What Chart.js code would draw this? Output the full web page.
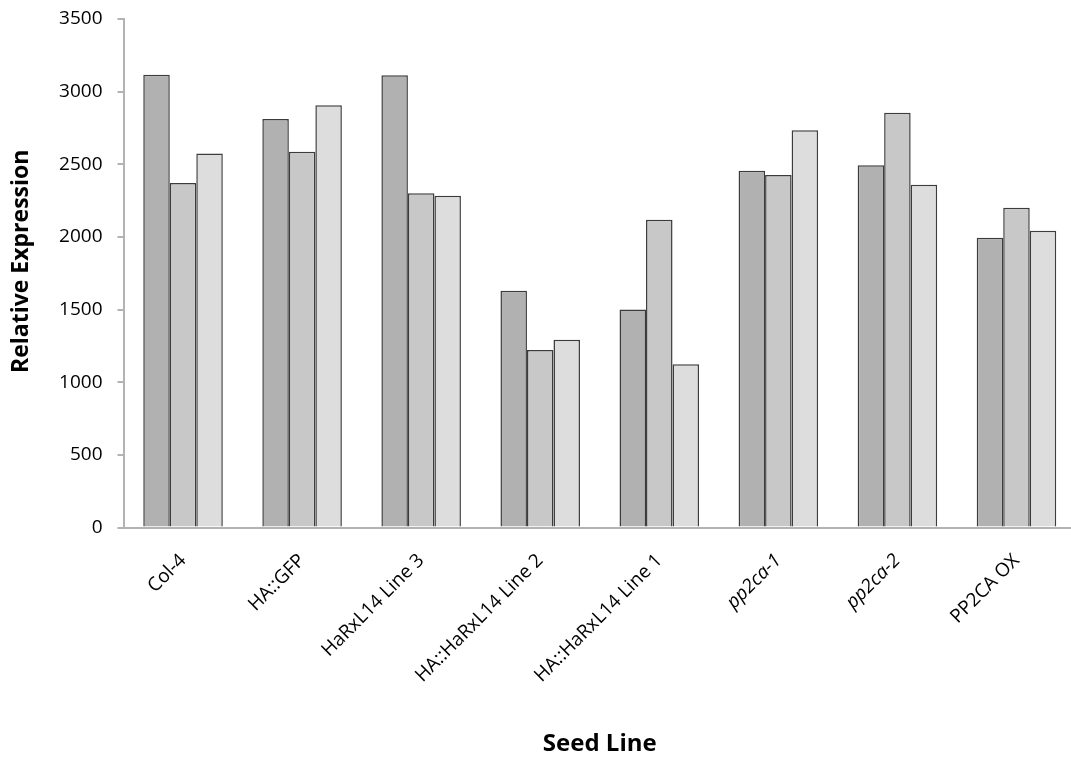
<!DOCTYPE html>
<html>
<head>
<meta charset="utf-8">
<script src="https://cdn.jsdelivr.net/npm/chart.js@4"></script>
<style>
html, body { margin: 0; padding: 0; overflow: hidden; background: #fff; }
#wrap { width: 1076px; height: 760px; position: relative; }
</style>
</head>
<body>
<div id="wrap"><canvas id="c" width="1076" height="760"></canvas></div>
<script>
const categories = ["Col-4", "HA::GFP", "HaRxL14 Line 3", "HA::HaRxL14 Line 2", "HA::HaRxL14 Line 1", "pp2ca-1", "pp2ca-2", "PP2CA OX"];
const series1 = [3116, 2811, 3112, 1629, 1501, 2455, 2493, 1994];
const series2 = [2372, 2586, 2301, 1221, 2118, 2427, 2854, 2201];
const series3 = [2575, 2907, 2284, 1292, 1124, 2735, 2360, 2042];
const italicCategories = ["pp2ca-1", "pp2ca-2"];
const yTicks = [0, 500, 1000, 1500, 2000, 2500, 3000, 3500];

const FONT = "'Open Sans', 'DejaVu Sans', sans-serif";
const axisGrey = "#b3b3b3";

new Chart(document.getElementById("c"), {
  type: "bar",
  data: {
    labels: categories,
    datasets: [
      { data: series1, backgroundColor: "#b1b1b1" },
      { data: series2, backgroundColor: "#c8c8c8" },
      { data: series3, backgroundColor: "#dddddd" }
    ].map(d => Object.assign(d, { borderColor: "#3c3c3c", borderWidth: 1.5, categoryPercentage: 0.668, barPercentage: 1.0 }))
  },
  options: {
    responsive: false,
    animation: false,
    layout: { padding: { top: 19, right: 0, left: 0, bottom: 0 } },
    plugins: { legend: { display: false }, tooltip: { enabled: false } },
    scales: {
      x: {
        grid: { display: false, drawTicks: false },
        border: { display: true, color: axisGrey, width: 2 },
        ticks: {
          color: "#000",
          maxRotation: 45,
          minRotation: 45,
          autoSkip: false,
          padding: 22,
          font: (ctx) => ({
            family: FONT,
            size: 19,
            style: italicCategories.includes(categories[ctx.index]) ? "italic" : "normal"
          })
        },
        title: {
          display: true,
          text: "Seed Line",
          color: "#000",
          font: { family: FONT, size: 24, weight: "bold" },
          padding: { top: 2, bottom: 1 }
        },
        afterFit: (s) => { s.height = 760 - 527.5; s.paddingLeft = 0; s.paddingRight = 0; }
      },
      y: {
        min: 0,
        max: 3500,
        afterBuildTicks: (s) => { s.ticks = yTicks.map(v => ({ value: v })); },
        grid: { display: true, drawOnChartArea: false, drawTicks: true, tickLength: 6, color: axisGrey, lineWidth: 2 },
        border: { display: true, color: axisGrey, width: 2 },
        ticks: {
          color: "#000",
          padding: 15,
          font: { family: FONT, size: 19 },
          callback: (v) => String(v)
        },
        title: {
          display: true,
          text: "    Relative Expression",
          color: "#000",
          font: { family: FONT, size: 23, weight: "bold" },
          padding: { top: 8, bottom: 0 }
        },
        afterFit: (s) => { s.width = 123.5; s.paddingTop = 0; s.paddingBottom = 0; }
      }
    }
  }
});
</script>
</body>
</html>
